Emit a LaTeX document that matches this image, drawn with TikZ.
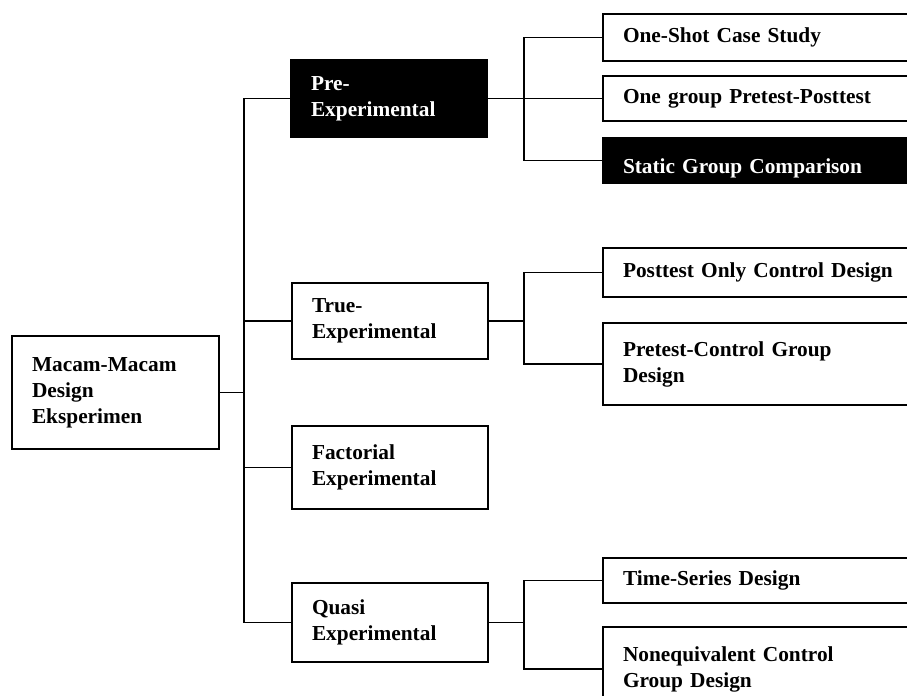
\documentclass[tikz,border=0pt]{standalone}
\usepackage{fontspec}
\setmainfont{Liberation Serif}
\usepackage{xcolor}

\tikzset{
  box/.style={draw, line width=1.3pt, anchor=north west, align=left,
    inner xsep=15pt, inner ysep=0pt, outer sep=0pt,
    font=\fontsize{16}{19.5}\selectfont\bfseries},
  rootbox/.style={box, text width=125.25pt},
  midbox/.style={box, text width=117pt},
  leafbox/.style={box, text width=217.5pt},
  dark/.style={fill=black, text=white},
  link/.style={line width=1.3pt},
}

\begin{document}
\begin{tikzpicture}[x=0.75pt, y=-0.75pt]

            \useasboundingbox (0,0) rectangle (907,696);
            \clip (0,0) rectangle (907,696);

            % Kotak utama
            \node[rootbox, minimum height=84.75pt] (root) at (12,336) {Macam-Macam\\Design\\Eksperimen};

            % Jenis desain
            \node[midbox, dark, minimum height=57.75pt] (pre) at (291,60) {Pre-\\Experimental};
            \node[midbox, minimum height=57pt] (true) at (292,283) {True-\\Experimental};
            \node[midbox, minimum height=62.25pt] (fact) at (292,426) {Factorial\\Experimental};
            \node[midbox, minimum height=59.25pt] (quasi) at (292,583) {Quasi\\Experimental};

            % Turunan
            \node[leafbox, minimum height=35.25pt] (oneshot) at (603,14) {One-Shot Case Study};
            \node[leafbox, minimum height=33.75pt] (onegroup) at (603,76) {One group Pretest-Posttest};
            \node[leafbox, dark, minimum height=33.75pt] (static) at (603,138) {\raisebox{-10pt}[0pt][0pt]{Static Group Comparison}};

            \node[leafbox, minimum height=36.75pt] (posttest) at (603,248) {Posttest Only Control Design};
            \node[leafbox, minimum height=61.5pt] (pretest) at (603,323) {Pretest-Control Group\\Design};

            \node[leafbox, minimum height=33.75pt] (timeser) at (603,558) {Time-Series Design};
            \node[leafbox, minimum height=63pt] (noneq) at (603,627) {Nonequivalent Control\\Group Design};

            % Titik cabang
            \coordinate (trunk) at (244,0);
            \coordinate (branch) at (524,0);
            \coordinate (jroot) at (root.east -| trunk);
            \coordinate (jpre) at (pre.east -| branch);
            \coordinate (jtrue) at (true.east -| branch);
            \coordinate (jquasi) at (quasi.east -| branch);

            % Garis penghubung
            \draw[link] (root.east) -- (jroot);
            \draw[link] (pre.west) -| (jroot);
            \draw[link] (quasi.west) -| (jroot);
            \draw[link] (true.west) -- (true.west -| jroot);
            \draw[link] (fact.west) -- (fact.west -| jroot);

            \draw[link] (pre.east) -- (jpre);
            \draw[link] (oneshot.west) -| (jpre);
            \draw[link] (static.west) -| (jpre);
            \draw[link] (onegroup.west) -- (onegroup.west -| jpre);

            \draw[link] (true.east) -- (jtrue);
            \draw[link] (posttest.west) -| (jtrue);
            \draw[link] (pretest.west) -| (jtrue);

            \draw[link] (quasi.east) -- (jquasi);
            \draw[link] (timeser.west) -| (jquasi);
            \draw[link] (noneq.west) -| (jquasi);

        \end{tikzpicture}
\end{document}
